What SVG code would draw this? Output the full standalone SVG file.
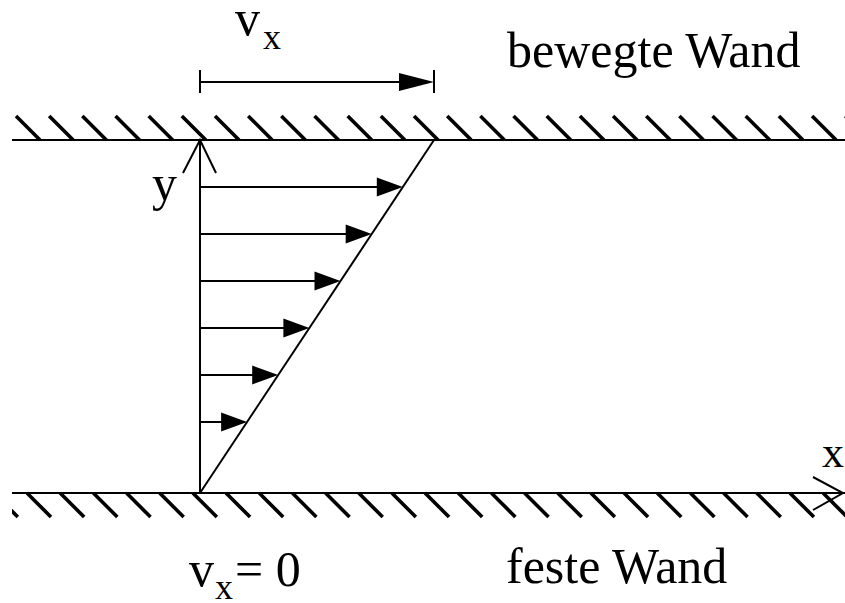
<svg xmlns="http://www.w3.org/2000/svg" width="845" height="603" viewBox="0 0 845 603">
<style>
.wall{stroke:#000;stroke-width:2;fill:none}
.hatch{stroke:#000;stroke-width:3.6;fill:none}
.ln{stroke:#000;stroke-width:2;fill:none}
.head{fill:#000;stroke:none}
.t{font-family:"Liberation Serif","Times New Roman",serif;font-size:50px;fill:#000}
.sub{font-size:36px}
</style>
<defs>
<clipPath id="clip"><rect x="12" y="0" width="833" height="603"/></clipPath>
<path id="h" d="M0,0 l24,24"/>
</defs>
<rect width="845" height="603" fill="#fff"/>
<g id="top-wall">
<line class="wall" x1="12" y1="140" x2="845" y2="140"/>
<g clip-path="url(#clip)" class="hatch">
<use href="#h" x="16" y="116"/><use href="#h" x="49.17" y="116"/><use href="#h" x="82.34" y="116"/><use href="#h" x="115.51" y="116"/><use href="#h" x="148.68" y="116"/><use href="#h" x="181.85" y="116"/><use href="#h" x="215.02" y="116"/><use href="#h" x="248.19" y="116"/><use href="#h" x="281.36" y="116"/><use href="#h" x="314.53" y="116"/><use href="#h" x="347.7" y="116"/><use href="#h" x="380.87" y="116"/><use href="#h" x="414.04" y="116"/><use href="#h" x="447.21" y="116"/><use href="#h" x="480.38" y="116"/><use href="#h" x="513.55" y="116"/><use href="#h" x="546.72" y="116"/><use href="#h" x="579.89" y="116"/><use href="#h" x="613.06" y="116"/><use href="#h" x="646.23" y="116"/><use href="#h" x="679.4" y="116"/><use href="#h" x="712.57" y="116"/><use href="#h" x="745.74" y="116"/><use href="#h" x="778.91" y="116"/><use href="#h" x="812.08" y="116"/><use href="#h" x="845.25" y="116"/>
</g>
</g>
<g id="bottom-wall">
<line class="wall" x1="12" y1="493" x2="845" y2="493"/>
<g clip-path="url(#clip)" class="hatch">
<use href="#h" x="-6.17" y="493"/><use href="#h" x="27" y="493"/><use href="#h" x="60.17" y="493"/><use href="#h" x="93.34" y="493"/><use href="#h" x="126.51" y="493"/><use href="#h" x="159.68" y="493"/><use href="#h" x="192.85" y="493"/><use href="#h" x="226.02" y="493"/><use href="#h" x="259.19" y="493"/><use href="#h" x="292.36" y="493"/><use href="#h" x="325.53" y="493"/><use href="#h" x="358.7" y="493"/><use href="#h" x="391.87" y="493"/><use href="#h" x="425.04" y="493"/><use href="#h" x="458.21" y="493"/><use href="#h" x="491.38" y="493"/><use href="#h" x="524.55" y="493"/><use href="#h" x="557.72" y="493"/><use href="#h" x="590.89" y="493"/><use href="#h" x="624.06" y="493"/><use href="#h" x="657.23" y="493"/><use href="#h" x="690.4" y="493"/><use href="#h" x="723.57" y="493"/><use href="#h" x="756.74" y="493"/><use href="#h" x="789.91" y="493"/><use href="#h" x="823.08" y="493"/>
</g>
</g>
<g id="connectors">
<g id="y-axis">
<line class="ln" x1="200" y1="493" x2="200" y2="140"/>
<polyline class="ln" points="183,173 200,140 216,173"/>
</g>
<g id="x-axis">
<polyline class="ln" points="813,477 843,493 813,510"/>
</g>
<line id="profile" class="ln" x1="200" y1="493" x2="434" y2="140"/>
<g id="velocity-arrows">
<line class="ln" x1="200" y1="187" x2="390" y2="187"/><polygon class="head" points="402.8,187 376.8,177.5 376.8,196.5"/>
<line class="ln" x1="200" y1="234" x2="360" y2="234"/><polygon class="head" points="371.7,234 345.7,224.5 345.7,243.5"/>
<line class="ln" x1="200" y1="281" x2="330" y2="281"/><polygon class="head" points="340.5,281 314.5,271.5 314.5,290.5"/>
<line class="ln" x1="200" y1="328" x2="298" y2="328"/><polygon class="head" points="309.4,328 283.4,318.5 283.4,337.5"/>
<line class="ln" x1="200" y1="375" x2="266" y2="375"/><polygon class="head" points="278.2,375 252.2,365.5 252.2,384.5"/>
<line class="ln" x1="200" y1="422" x2="235" y2="422"/><polygon class="head" points="247.1,422 221.1,412.5 221.1,431.5"/>
</g>
<g id="vx-dimension">
<line class="ln" x1="200" y1="70" x2="200" y2="93"/>
<line class="ln" x1="434" y1="70" x2="434" y2="93"/>
<line class="ln" x1="200" y1="82" x2="410" y2="82"/>
<polygon class="head" points="434,82 399,73 399,91"/>
</g>
</g>
<g id="labels">
<text class="t" x="235" y="35">v</text><text class="t sub" x="263" y="49">x</text>
<text class="t" x="507" y="67">bewegte Wand</text>
<text class="t" x="152" y="200">y</text>
<text class="t" x="822" y="467" style="font-size:44px">x</text>
<text class="t" x="189" y="586">v</text><text class="t sub" x="215" y="599">x</text><text class="t" x="235" y="586">= 0</text>
<text class="t" x="506" y="583">feste Wand</text>
</g>
</svg>
